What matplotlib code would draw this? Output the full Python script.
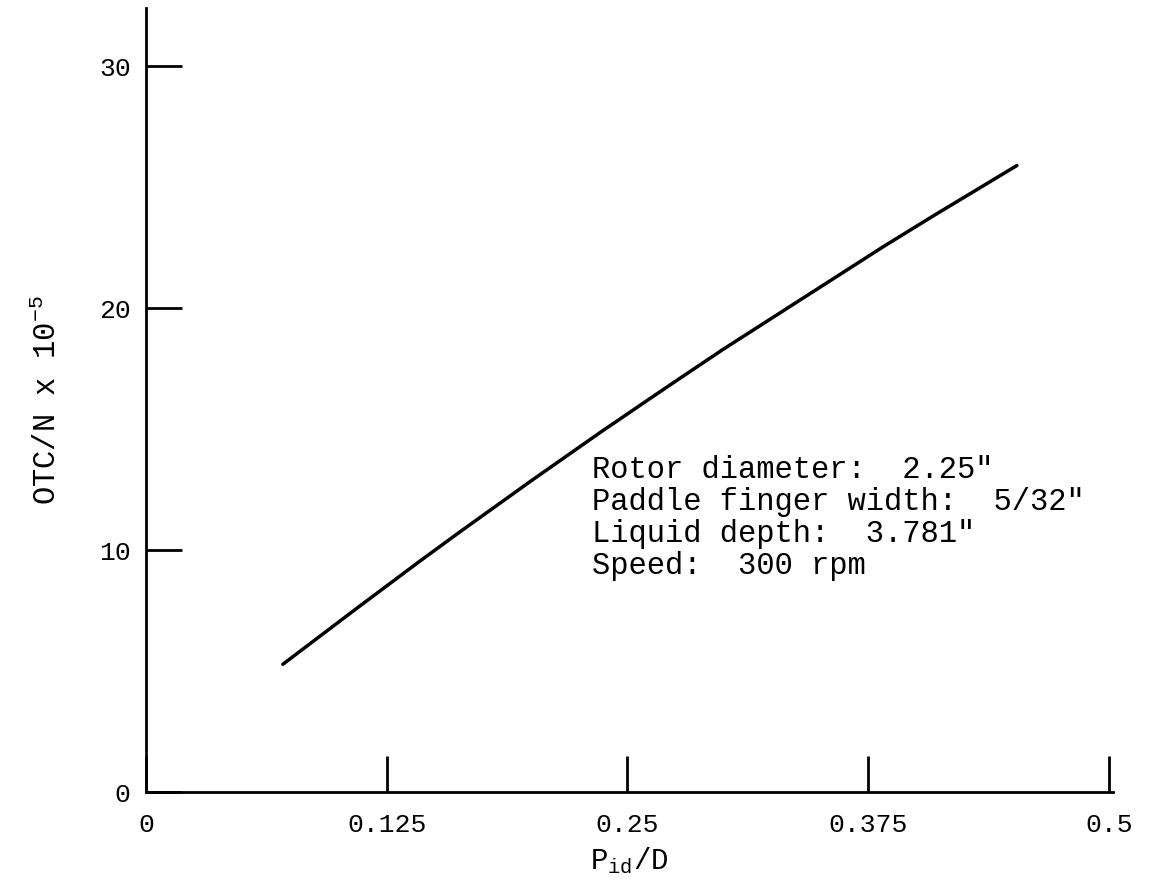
import matplotlib
matplotlib.use('Agg')
import matplotlib.pyplot as plt

# curve
pid_d = [0.0711, 0.1096, 0.1417, 0.1630, 0.2009, 0.2253, 0.2357, 0.2617,
         0.2773, 0.2996, 0.3827, 0.4086, 0.4522]
otc_n = [5.28, 7.60, 9.51, 10.75, 12.91, 14.27, 14.85, 16.26,
         17.10, 18.29, 22.53, 23.80, 25.89]

x_ticks = [0, 0.125, 0.25, 0.375, 0.5]
x_labels = ['0', '0.125', '0.25', '0.375', '0.5']
y_ticks = [0, 10, 20, 30]
y_labels = ['0', '10', '20', '30']

notes = ['Rotor diameter:  2.25"',
         'Paddle finger width:  5/32"',
         'Liquid depth:  3.781"',
         'Speed:  300 rpm']

plt.rcParams['font.family'] = ['Liberation Mono', 'DejaVu Sans Mono']
plt.rcParams['mathtext.fontset'] = 'custom'
plt.rcParams['mathtext.rm'] = 'Liberation Mono'
plt.rcParams['mathtext.it'] = 'Liberation Mono'

fig = plt.figure(figsize=(11.51, 8.92), dpi=100)
ax = fig.add_axes([0.1268, 0.1121, 0.8400, 0.8789])

ax.plot(pid_d, otc_n, color='black', lw=2.5, solid_capstyle='round')

ax.set_xlim(0, 0.502)
ax.set_ylim(0, 32.4)
ax.spines['top'].set_visible(False)
ax.spines['right'].set_visible(False)
for s in ['left', 'bottom']:
    ax.spines[s].set_linewidth(2)

ax.set_xticks(x_ticks)
ax.set_xticklabels(x_labels)
ax.set_yticks(y_ticks)
ax.set_yticklabels(y_labels)
ax.tick_params(axis='x', direction='in', length=26, width=2, pad=15, labelsize=19)
ax.tick_params(axis='y', direction='in', length=26, width=2, pad=11, labelsize=19)

ax.set_xlabel('P$_{id}$/D', fontsize=21, labelpad=6)
ax.set_ylabel('OTC/N x 10$^{-5}$', fontsize=22, labelpad=26)

# typed note block, one line per row
for i, line in enumerate(notes):
    ax.text(0.2316, 12.96 - 1.31 * i, line, fontsize=22, va='baseline', ha='left')

fig.savefig('out.png', dpi=100)
